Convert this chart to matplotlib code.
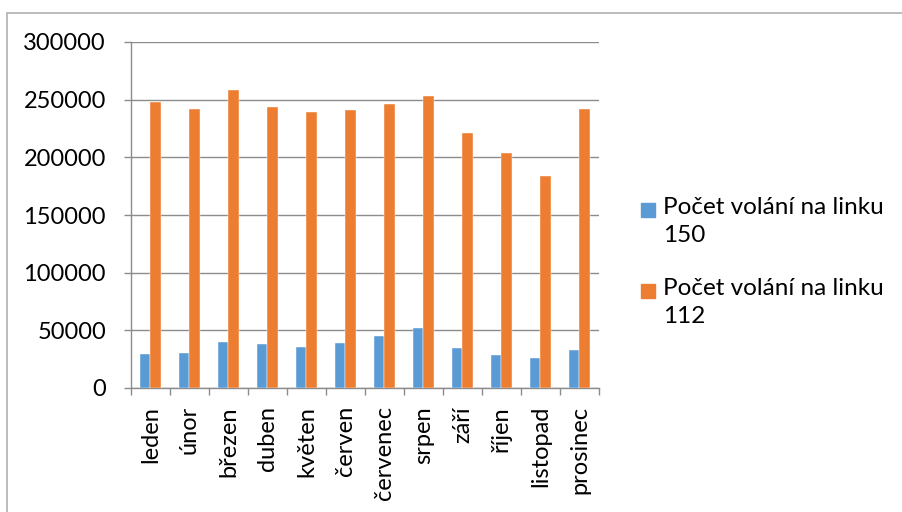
import numpy as np
import matplotlib.pyplot as plt
from matplotlib.patches import Rectangle

plt.rcParams['font.family'] = ['Lato', 'DejaVu Sans']

months = ['leden', 'únor', 'březen', 'duben', 'květen', 'červen',
          'červenec', 'srpen', 'září', 'říjen', 'listopad', 'prosinec']
calls_150 = [29300, 30100, 39700, 38000, 35600, 38800,
             44900, 51600, 34500, 28700, 25800, 32700]
calls_112 = [248000, 242200, 258100, 243300, 239000, 240700,
             246500, 252900, 220700, 203400, 183900, 241900]
series_names = ['Počet volání na linku\n150', 'Počet volání na linku\n112']

blue = '#5b9bd5'
orange = '#ed7d31'
axis_grey = '#8c8c8c'
fs = 17

W, H = 903, 512
fig = plt.figure(figsize=(W / 100, H / 100), dpi=100)
ax = fig.add_axes([131 / W, 1 - 388 / H, 468 / W, 346 / H])

# chart frame
fig.patches.append(Rectangle((7 / W, -0.01), 1.0, 1 - 13 / H + 0.01,
                             transform=fig.transFigure, fill=False,
                             edgecolor='#b0b0b0', linewidth=1.2))

x = np.arange(len(months))
w = 0.28
ax.bar(x - w / 2, calls_150, w, color=blue, edgecolor='white', linewidth=0.3, zorder=3)
ax.bar(x + w / 2, calls_112, w, color=orange, edgecolor='white', linewidth=0.3, zorder=3)

ax.set_xlim(-0.5, len(months) - 0.5)
ax.set_ylim(0, 300000)
ax.set_yticks(np.arange(0, 300001, 50000))
ax.yaxis.grid(True, color=axis_grey, linewidth=1.0, zorder=0)

ax.set_xticks(x)
ax.set_xticklabels(months, rotation=90, fontsize=fs)
ax.set_xticks(np.arange(-0.5, len(months)), minor=True)
ax.tick_params(axis='x', which='major', length=0, pad=13)
ax.tick_params(axis='x', which='minor', length=5, color=axis_grey, width=1.0)
ax.tick_params(axis='y', length=5, color=axis_grey, width=1.0, labelsize=fs, pad=13)

for side in ['top', 'right']:
    ax.spines[side].set_visible(False)
for side in ['left', 'bottom']:
    ax.spines[side].set_color(axis_grey)
    ax.spines[side].set_linewidth(1.0)

# legend: square marker aligned with the first text line
for i, (name, color) in enumerate(zip(series_names, [blue, orange])):
    top = 203 + i * 81
    fig.patches.append(Rectangle((641 / W, 1 - (top + 14) / H), 14 / W, 14 / H,
                                 transform=fig.transFigure, color=color))
    fig.text(663 / W, 1 - (top - 6) / H, name, fontsize=17.5, va='top', ha='left',
             linespacing=1.4)

fig.savefig('out.png', dpi=100)
